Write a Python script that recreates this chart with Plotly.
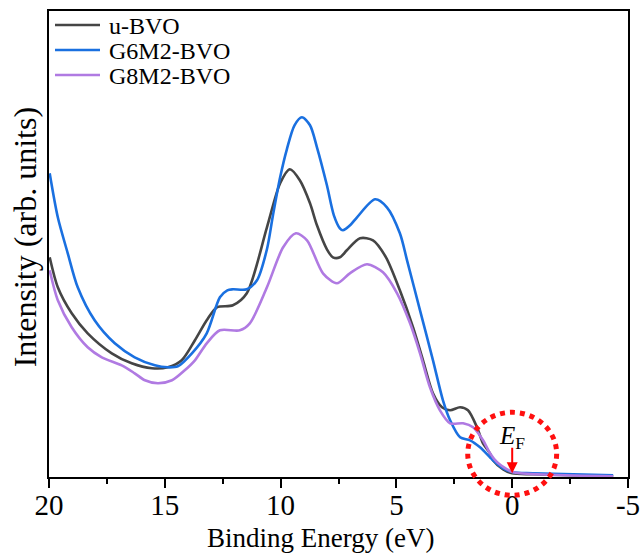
import plotly.graph_objects as go

# ---- data (binding energy in eV, intensity in arb. units) ----
energy_u = [19.97, 19.62, 19.02, 18.33, 17.29, 16.43, 15.56, 14.87, 14.27, 13.70, 13.19, 12.75,
            12.06, 11.46, 10.59, 10.02, 9.60, 9.17, 8.73, 8.43, 8.00, 7.74, 7.44, 7.14, 6.57,
            6.01, 5.45, 4.85, 4.28, 3.85, 3.42, 3.03, 2.68, 2.25, 1.91, 1.52, 1.26, 0.96, 0.83,
            0.39, 0.0, -0.90, -4.36]
inten_u = [220, 190, 164, 144, 124, 114, 109, 110, 117, 137, 157, 170,
           172, 184, 250, 294, 308, 297, 274, 252, 228, 220, 220, 227, 239,
           237, 220, 187, 150, 117, 84, 70, 67, 70, 67, 50, 34, 24, 17,
           8, 4, 3, 1]

energy_g6 = [19.97, 19.62, 19.19, 18.76, 18.03, 17.16, 16.30, 15.43, 14.87, 14.44, 13.83, 13.19,
             12.62, 12.30, 12.06, 11.46, 11.02, 10.59, 10.33, 10.02, 9.73, 9.40, 9.08, 8.73,
             8.43, 8.00, 7.70, 7.44, 7.31, 7.00, 6.70, 5.92, 5.41, 4.85, 4.54, 3.98, 3.42, 2.99,
             2.68, 2.25, 1.82, 1.39, 0.96, 0.83, 0.39, -0.04, -0.90, -4.36]
inten_g6 = [304, 260, 224, 190, 157, 134, 120, 112, 110, 111, 124, 144,
            180, 187, 188, 188, 197, 228, 262, 300, 328, 352, 360, 352,
            330, 292, 262, 249, 247, 252, 260, 278, 270, 244, 217, 167, 117, 77,
            57, 40, 37, 30, 20, 17, 9, 5, 4, 2]

energy_g8 = [19.97, 19.62, 19.02, 18.33, 17.72, 16.86, 16.30, 15.86, 15.30, 14.69, 14.14, 13.70,
             13.19, 12.62, 11.76, 11.33, 10.59, 9.89, 9.34, 8.86, 8.17, 7.57, 7.01, 6.27, 5.58,
             4.97, 4.41, 3.98, 3.55, 3.12, 2.68, 2.12, 1.69, 1.26, 0.96, 0.65, 0.22, -0.04,
             -4.36]
inten_g8 = [207, 177, 150, 130, 120, 112, 104, 97, 94, 97, 107, 117,
            134, 147, 147, 154, 190, 230, 244, 237, 204, 194, 204, 213, 205,
            184, 154, 124, 90, 67, 54, 54, 50, 37, 24, 15, 8, 5,
            1]

series_names = ["u-BVO", "G6M2-BVO", "G8M2-BVO"]
x_tick_vals = [20, 15, 10, 5, 0, -5]
x_tick_text = ["20", "15", "10", "5", "0", "-5"]
x_range = [20, -5]
y_range = [0.3, 466.3]

# Fermi-level marker (eV) and circle extent
ef_energy = 0.0
ef_circle_dx = 1.92      # eV
ef_circle_ytop = 65      # intensity
ef_circle_ybot = -18     # intensity

colors = ["#454545", "#1a70e0", "#b07ae2"]
font_family = "Times New Roman, Liberation Serif, serif"

W, H = 640, 554
M_L, M_R, M_T, M_B = 49, 12, 11, 77
PLOT_W = W - M_L - M_R
PLOT_H = H - M_T - M_B

def px_to_paper_x(px):
    return (px - M_L) / PLOT_W

def px_to_paper_y(py):
    return (H - M_B - py) / PLOT_H

fig = go.Figure()
for name, xs, ys, c in zip(series_names, [energy_u, energy_g6, energy_g8],
                           [inten_u, inten_g6, inten_g8], colors):
    fig.add_trace(go.Scatter(x=xs, y=ys, mode="lines", name=name, showlegend=False,
                             line=dict(color=c, width=2.6, shape="spline", smoothing=0.8)))

# legend drawn as line samples + labels (top-left, inside the frame)
legend_rows_px = [25, 50, 75]
for name, c, ry in zip(series_names, colors, legend_rows_px):
    fig.add_shape(type="line", xref="paper", yref="paper",
                  x0=px_to_paper_x(55), x1=px_to_paper_x(100),
                  y0=px_to_paper_y(ry), y1=px_to_paper_y(ry),
                  line=dict(color=c, width=2.6))
    fig.add_annotation(x=px_to_paper_x(107), y=px_to_paper_y(ry + 1), xref="paper", yref="paper",
                       text=name, showarrow=False, xanchor="left", yanchor="middle",
                       font=dict(family=font_family, size=24, color="black"))

def xdom(v):
    return (v - x_range[0]) / (x_range[1] - x_range[0])

def ydom(v):
    return (v - y_range[0]) / (y_range[1] - y_range[0])

fig.add_shape(type="circle", xref="x domain", yref="y domain",
              x0=xdom(ef_energy + ef_circle_dx), x1=xdom(ef_energy - ef_circle_dx),
              y0=ydom(ef_circle_ybot), y1=ydom(ef_circle_ytop),
              line=dict(color="#ff1010", width=5, dash="5px,5px"))

fig.add_annotation(x=ef_energy, y=4, xref="x", yref="y", ax=0, ay=-27,
                   text="", showarrow=True, arrowhead=2, arrowsize=1.1,
                   arrowwidth=2, arrowcolor="#ff0000")
fig.add_annotation(x=ef_energy, y=40, xref="x", yref="y",
                   text="<i>E</i><sub>F</sub>", showarrow=False,
                   font=dict(family=font_family, size=25, color="black"),
                   xanchor="center", yanchor="middle")

# axis titles as annotations
fig.add_annotation(x=0.469, y=-0.13, xref="paper", yref="paper",
                   text="Binding Energy (eV)", showarrow=False,
                   font=dict(family=font_family, size=27, color="black"),
                   xanchor="center", yanchor="middle")
fig.add_annotation(x=-0.04, y=0.514, xref="paper", yref="paper",
                   text="Intensity (arb. units)", showarrow=False, textangle=-90,
                   font=dict(family=font_family, size=32, color="black"),
                   xanchor="center", yanchor="middle")

fig.update_layout(
    width=W, height=H,
    margin=dict(l=M_L, r=M_R, t=M_T, b=M_B),
    paper_bgcolor="white", plot_bgcolor="white",
    font=dict(family=font_family, color="black"),
    showlegend=False,
    xaxis=dict(range=x_range, tickvals=x_tick_vals, ticktext=x_tick_text,
               ticks="outside", ticklen=9,
               tickwidth=1.6, tickcolor="black", showline=True, linecolor="black",
               linewidth=2, mirror=True, showgrid=False, zeroline=False,
               ticklabeloverflow="allow", automargin=False, ticklabelstandoff=-8,
               tickfont=dict(family=font_family, size=29, color="black"),
               minor=dict(dtick=2.5, ticks="outside", ticklen=5, tickwidth=1.6,
                          tickcolor="black", showgrid=False)),
    yaxis=dict(range=y_range, showticklabels=False, ticks="", showline=True,
               linecolor="black", linewidth=2, mirror=True, showgrid=False,
               zeroline=False, automargin=False),
)

fig.write_html("out.html")
